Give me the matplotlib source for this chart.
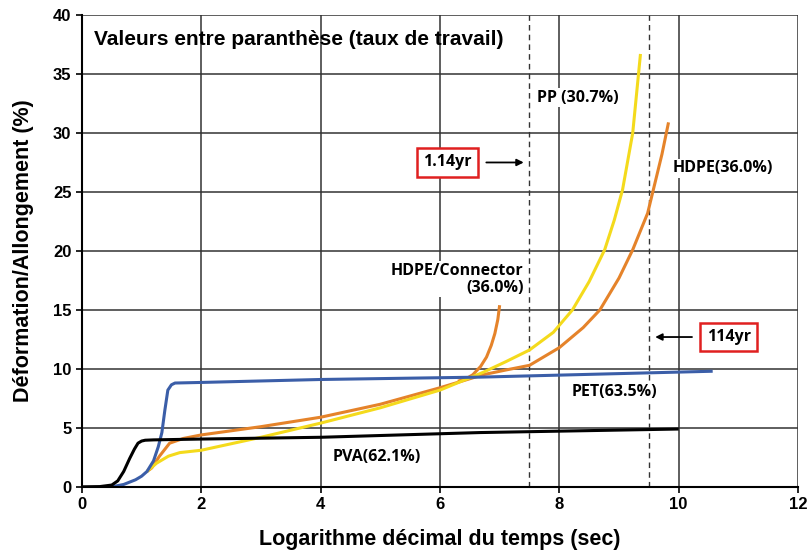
import matplotlib.pyplot as plt

# lectures approximatives sur la figure d'origine
pva_x = [0, 0.3, 0.5, 0.6, 0.7, 0.8, 0.88, 0.94, 1.0, 1.06, 1.2, 2, 4, 6.67, 10]
pva_y = [0, 0.02, 0.15, 0.5, 1.3, 2.4, 3.2, 3.7, 3.88, 3.95, 3.98, 4.05, 4.2, 4.6, 4.9]

pet_x = [0.5, 0.7, 0.9, 1.0, 1.09, 1.2, 1.28, 1.34, 1.39, 1.44, 1.5, 1.56, 2, 4, 6.67, 10.57]
pet_y = [0, 0.2, 0.6, 0.9, 1.3, 2.2, 3.4, 4.6, 6.5, 8.2, 8.65, 8.8, 8.85, 9.1, 9.3, 9.8]

pp_x = [1.09, 1.25, 1.45, 1.64, 2.0, 3.0, 4.0, 5.0, 6.0, 6.72, 7.1, 7.5, 7.9, 8.22, 8.5, 8.76, 8.92, 9.06, 9.23, 9.36]
pp_y = [1.3, 2.0, 2.6, 2.9, 3.1, 4.2, 5.4, 6.7, 8.2, 9.7, 10.6, 11.6, 13.1, 15.0, 17.4, 20.1, 22.6, 25.2, 30.0, 36.7]

hdpe_x = [1.09, 1.17, 1.3, 1.47, 1.7, 2.0, 3.0, 4.0, 5.0, 6.0, 6.72, 7.1, 7.5, 8.0, 8.4, 8.68, 9.0, 9.23, 9.48, 9.6, 9.72, 9.83]
hdpe_y = [1.3, 1.6, 2.6, 3.7, 4.1, 4.4, 5.1, 5.9, 7.0, 8.4, 9.5, 9.9, 10.3, 11.8, 13.5, 15.0, 17.7, 20.1, 23.2, 25.7, 28.2, 30.9]

conn_x = [6.3, 6.45, 6.55, 6.68, 6.78, 6.86, 6.92, 6.97, 7.0]
conn_y = [8.95, 9.2, 9.5, 10.2, 11.0, 12.0, 13.0, 14.2, 15.4]

x_ticks = [0, 2, 4, 6, 8, 10, 12]
y_ticks = [0, 5, 10, 15, 20, 25, 30, 35, 40]
dash_x = [7.5, 9.5]

jaune = '#f4da1c'
orange = '#e5832a'
bleu = '#3b5ea8'

plt.rcParams['font.family'] = ['Liberation Sans', 'DejaVu Sans']

fig = plt.figure(figsize=(8.11, 5.57), dpi=100)
ax = fig.add_axes([0.101, 0.126, 0.883, 0.847])

ax.set_xlim(0, 12)
ax.set_ylim(0, 40)
ax.set_xticks(x_ticks)
ax.set_yticks(y_ticks)
ax.grid(True, color='#333333', linewidth=1.1)
ax.set_axisbelow(True)
for s in ['top', 'right']:
    ax.spines[s].set_visible(False)
for s in ['left', 'bottom']:
    ax.spines[s].set_linewidth(1.5)
ax.tick_params(labelsize=12, length=4, width=1.2)
for t in ax.get_xticklabels() + ax.get_yticklabels():
    t.set_fontweight('bold')

for xv in dash_x:
    ax.axvline(xv, color='#333333', linestyle=(0, (4, 3)), linewidth=1.0)

ax.plot(conn_x, conn_y, color=orange, linewidth=2.2, solid_capstyle='butt')
ax.plot(hdpe_x, hdpe_y, color=orange, linewidth=2.2, solid_capstyle='butt')
ax.plot(pp_x, pp_y, color=jaune, linewidth=2.2, solid_capstyle='butt')
ax.plot(pet_x, pet_y, color=bleu, linewidth=2.2, solid_capstyle='butt')
ax.plot(pva_x, pva_y, color='black', linewidth=2.2, solid_capstyle='butt')

ax.text(0.2, 37.9, 'Valeurs entre paranthèse (taux de travail)', fontsize=15,
        fontweight='bold', va='center', ha='left')

fond = dict(boxstyle='square,pad=0.1', facecolor='white', edgecolor='none')
lab = dict(fontsize=11.5, fontweight='bold', family=['Open Sans', 'DejaVu Sans'])
ax.text(7.62, 33.0, 'PP (30.7%)', va='center', bbox=fond, **lab)
ax.text(9.9, 27.0, 'HDPE(36.0%)', va='center', bbox=fond, **lab)
ax.text(7.4, 17.6, 'HDPE/Connector\n(36.0%)', ha='right', va='center',
        linespacing=1.1, bbox=fond, **lab)
ax.text(8.2, 8.0, 'PET(63.5%)', va='center', bbox=fond, **lab)
ax.text(4.2, 2.5, 'PVA(62.1%)', va='center', bbox=fond, **lab)

box = dict(boxstyle='square,pad=0.4', facecolor='white', edgecolor='#e02020', linewidth=1.8)
ax.annotate('', xy=(7.45, 27.5), xytext=(6.73, 27.5),
            arrowprops=dict(arrowstyle='-|>', color='black', lw=1.3))
ax.text(6.13, 27.5, '1.14yr', va='center', ha='center', bbox=box, **lab)
ax.annotate('', xy=(9.56, 12.7), xytext=(10.27, 12.7),
            arrowprops=dict(arrowstyle='-|>', color='black', lw=1.3))
ax.text(10.84, 12.7, '114yr', va='center', ha='center', bbox=box, **lab)

ax.set_xlabel('Logarithme décimal du temps (sec)', fontsize=15.5, fontweight='bold', labelpad=12)
ax.set_ylabel('Déformation/Allongement (%)', fontsize=15.5, fontweight='bold', labelpad=14)

fig.savefig('out.png', dpi=100)
